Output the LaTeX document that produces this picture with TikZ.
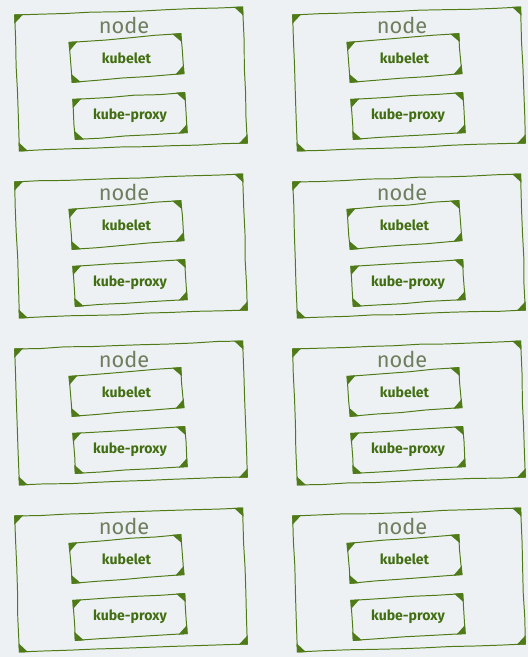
\documentclass[tikz,border=0pt]{standalone}
\usepackage{fontspec}
\setmainfont{Fira Sans}
\usetikzlibrary{calc,decorations.pathmorphing}
\definecolor{paper}{HTML}{EEF1F3}
\definecolor{leaf}{HTML}{4E7A17}
\definecolor{leafdark}{HTML}{426E12}
\definecolor{nodegray}{HTML}{6E7E5E}
% filled corner marks of a sketched box
\newcommand{\corners}[2]{%
  \fill[leaf] (#1.north west) -- ($(#1.north west)!#2!(#1.north east)$) -- ($(#1.north west)!#2!(#1.south west)$) -- cycle;
  \fill[leaf] (#1.north east) -- ($(#1.north east)!#2!(#1.north west)$) -- ($(#1.north east)!#2!(#1.south east)$) -- cycle;
  \fill[leaf] (#1.south east) -- ($(#1.south east)!#2!(#1.south west)$) -- ($(#1.south east)!#2!(#1.north east)$) -- cycle;
  \fill[leaf] (#1.south west) -- ($(#1.south west)!#2!(#1.south east)$) -- ($(#1.south west)!#2!(#1.north west)$) -- cycle;
}
\tikzset{
  sketch/.style={draw=leaf, line width=0.7pt, decorate,
    decoration={random steps, segment length=18pt, amplitude=0.35pt}},
  hostbox/.style={sketch, minimum width=5.7cm, minimum height=3.4cm},
  agentbox/.style={sketch, minimum width=2.8cm, minimum height=1cm,
    font=\fontsize{10}{12}\selectfont\bfseries, text=leafdark},
  hostlabel/.style={font=\fontsize{15.5}{17}\selectfont, text=nodegray}
}
\begin{document}
\begin{tikzpicture}[x=0.025cm,y=-0.025cm]
\pgfmathsetseed{7}
\fill[paper] (0,0) rectangle (528,657);
\useasboundingbox (0,0) rectangle (528,657);
\foreach \cx/\cy [count=\i] in {0/0, 278/0, 0/167, 278/167, 0/334, 278/334, 0/501, 278/501} {
  \node[hostbox, rotate=2] (host\i) at (\cx+131, \cy+79) {};
  \node[hostlabel] (title\i) at (\cx+124, \cy+25) {node};
  \node[agentbox, rotate=4.5] (kubelet\i) at (\cx+126.5, \cy+58) {\rotatebox{-4.5}{kubelet}};
  \node[agentbox, rotate=3.5] (proxy\i) at (\cx+130, \cy+116) {\rotatebox{-3.5}{kube-proxy}};
  \corners{host\i}{6.5pt}
  \corners{kubelet\i}{6.5pt}
  \corners{proxy\i}{6.5pt}
}
\end{tikzpicture}
\end{document}
